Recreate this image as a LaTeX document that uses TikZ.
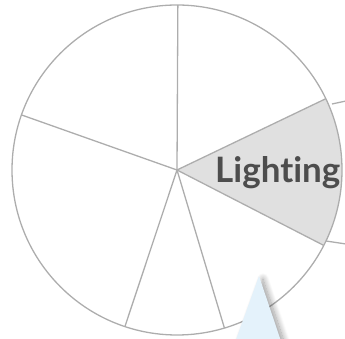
\documentclass[tikz,border=0pt]{standalone}
\usepackage{fontspec}
\setsansfont{Lato}[Ligatures=NoCommon]
\usetikzlibrary{shadows.blur}
\definecolor{pieline}{HTML}{ADADAD}
\definecolor{pieshade}{HTML}{E0E0E0}
\definecolor{pietext}{HTML}{4D4D4D}
\definecolor{pointerblue}{HTML}{E4F2FB}
\begin{document}
\begin{tikzpicture}[
    x=1pt, y=1pt,
    spoke/.style={draw=pieline, line width=1.3pt},
    leader/.style={draw=pieline, line width=1.3pt},
    slicelabel/.style={font=\sffamily\bfseries\fontsize{35}{35}\selectfont,
                       text=pietext, inner sep=0pt, anchor=base west},
    pointer/.style={fill=pointerblue,
                    blur shadow={shadow xshift=4pt, shadow yshift=-3pt,
                                 shadow blur radius=6pt, shadow blur steps=16,
                                 shadow opacity=40}}
]
\useasboundingbox (0,0) rectangle (345,339);
\clip (0,0) rectangle (345,339);
\coordinate (c) at (177,169);

% shaded slice
\fill[pieshade] (c) -- ++(-27.2:165) arc[start angle=-27.2, end angle=25.6, radius=165] -- cycle;

% circle and spokes
\draw[spoke] (c) circle[radius=165];
\foreach \a in {89.7,25.6,-27.2,-73.3,251.6,160.5}
    \draw[spoke] (c) -- ++(\a:165);

% leader lines to the right
\coordinate (upA) at (332,235);
\coordinate (upB) at (346,238);
\coordinate (loA) at (326,98);
\coordinate (loB) at (346,95);
\draw[leader] (upA) -- (upB);
\draw[leader] (loA) -- (loB);

\node[slicelabel] (lighting) at (215,156) {Lighting};

% pointer
\coordinate (tip) at (259,63);
\coordinate (tl) at (229,-20);
\coordinate (tr) at (287,-20);
\path[pointer] (tip) -- (tr) -- (tl) -- cycle;
\end{tikzpicture}
\end{document}
